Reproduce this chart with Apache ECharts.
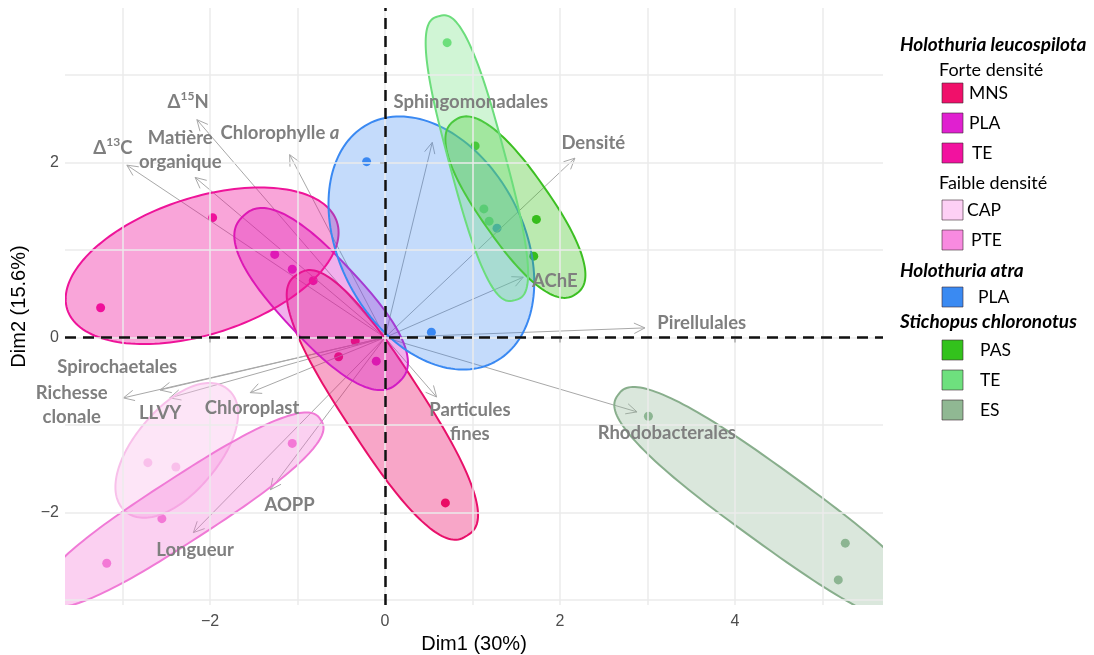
<!DOCTYPE html>
<html><head><meta charset="utf-8">
<script src="https://cdn.jsdelivr.net/npm/echarts@6/dist/echarts.min.js"></script>
<style>html,body{margin:0;padding:0;background:#fff}#c{width:1094px;height:655px}</style>
</head><body><div id="c"></div>
<script>
// ---------- DATA (PCA individuals, Dim1 / Dim2) ----------
const groupLabels = ['MNS','PLA','TE','CAP','PTE','PLA','PAS','TE','ES'];
const mnsDim1 = [-0.34, -0.53, 0.69],  mnsDim2 = [-0.04, -0.22, -1.89];
const plaDim1 = [-1.26, -1.06, -0.10], plaDim2 = [0.95, 0.78, -0.27];
const teDim1  = [-1.97, -3.25, -0.82], teDim2  = [1.37, 0.34, 0.65];
const capDim1 = [-2.71, -2.39],        capDim2 = [-1.43, -1.48];
const pteDim1 = [-1.06, -2.55, -3.18], pteDim2 = [-1.21, -2.07, -2.58];
const atraDim1 = [-0.21, 0.53, 1.28],  atraDim2 = [2.01, 0.06, 1.25];
const pasDim1 = [1.03, 1.73, 1.70],    pasDim2 = [2.19, 1.35, 0.93];
const scTeDim1 = [0.71, 1.13, 1.19],   scTeDim2 = [3.37, 1.47, 1.33];
const esDim1 = [3.01, 5.26, 5.18],     esDim2 = [-0.90, -2.35, -2.77];

// Ellipses (centre, semi-axes, orientation in degrees), per group, same order
const ellipseCx    = [-0.03, -0.73, -2.09, -2.38, -2.32, 0.53, 1.49, 1.05, 4.42];
const ellipseCy    = [-0.77, 0.44, 0.82, -1.29, -1.97, 1.08, 1.49, 2.05, -1.93];
const ellipseMajor = [1.78, 1.30, 1.62, 0.91, 1.89, 1.54, 1.21, 1.68, 2.17];
const ellipseMinor = [0.45, 0.47, 0.78, 0.48, 0.36, 1.05, 0.40, 0.32, 0.42];
const ellipseAngle = [-57, -47, 18, 50, 33, -62, -55, -75, -36];

// Variables (arrows)
const varNames = ['Δ13C','Δ15N','Matière organique','Chlorophylle a','Sphingomonadales','Densité','AChE','Pirellulales','Rhodobacterales','Particules fines','Spirochaetales','Richesse clonale','LLVY','Chloroplast','AOPP','Longueur'];
const varDim1 = [-2.95,-2.15,-2.17,-1.09,0.54,2.17,1.58,2.97,2.88,0.59,-2.57,-2.99,-2.46,-1.54,-1.31,-2.19];
const varDim2 = [1.97,2.49,1.83,2.09,2.23,2.05,0.69,0.11,-0.85,-0.68,-0.60,-0.69,-0.69,-0.63,-1.74,-2.23];
const varLabelDim1 = [-3.11,-2.25,-2.34,-1.20,0.98,2.38,1.94,3.62,3.22,0.97,-3.06,-3.58,-2.57,-1.52,-1.09,-2.17];
const varLabelDim2 = [2.17,2.69,2.14,2.34,2.69,2.22,0.65,0.17,-1.09,-0.97,-0.34,-0.77,-0.86,-0.81,-1.91,-2.43];

// Axes
const xTicks = [-2, 0, 2, 4];
const yTicks = [-2, 0, 2];
const gridXValues = [-3,-2,-1,0,1,2,3,4,5];
const gridYValues = [-3,-2,-1,0,1,2,3];
const xTitle = 'Dim1 (30%)', yTitle = 'Dim2 (15.6%)';

// Legend text
const legendHeads = ['Holothuria leucospilota','Holothuria atra','Stichopus chloronotus'];
const legendSubs = ['Forte densité','Faible densité'];

// ---------- STYLE ----------
const groupDims = [[mnsDim1,mnsDim2],[plaDim1,plaDim2],[teDim1,teDim2],[capDim1,capDim2],[pteDim1,pteDim2],[atraDim1,atraDim2],[pasDim1,pasDim2],[scTeDim1,scTeDim2],[esDim1,esDim2]];
const ellipseRoundness = [2.6, 2.5, 2, 2.1, 2.6, 2, 2.4, 2.8, 2.6];
const pointColor  = ['#e8065f','#d61ec6','#f0109c','#f9c2ec','#f37ad6','#3a89f2','#33bb1c','#6ddf7d','#8db592'];
const strokeColor = ['#e8106a','#d21cc4','#ee1499','#f8c0ea','#f07ad6','#3a89f2','#3cbf22','#6cdd7c','#88ae8c'];
const fillColor   = ['rgba(236,20,110,0.38)','rgba(214,30,200,0.35)','rgba(240,19,156,0.38)','rgba(250,190,236,0.40)','rgba(244,120,214,0.35)','rgba(58,137,242,0.30)','rgba(60,194,30,0.35)','rgba(110,224,125,0.32)','rgba(140,180,145,0.32)'];
const swatchColor = ['#f0106a','#e020d0','#f2129f','#fdd0f5','#f88ae0','#3a8af2','#33c21c','#6ee07e','#90b893'];
const labelGray = '#7f7f7f';
const FONT = 'Lato';

const chart = echarts.init(document.getElementById('c'));

function ellipseRender(gi) {
  return function (params, api) {
    const cx = api.value(0), cy = api.value(1), a = api.value(2), b = api.value(3);
    const t = api.value(4) * Math.PI / 180;
    const e = 2 / ellipseRoundness[gi];
    const pts = [];
    for (let i = 0; i <= 160; i++) {
      const u = 2 * Math.PI * i / 160;
      const cu = Math.cos(u), su = Math.sin(u);
      const ex = a * Math.sign(cu) * Math.pow(Math.abs(cu), e);
      const ey = b * Math.sign(su) * Math.pow(Math.abs(su), e);
      pts.push(api.coord([cx + ex * Math.cos(t) - ey * Math.sin(t), cy + ex * Math.sin(t) + ey * Math.cos(t)]));
    }
    const cs = params.coordSys;
    return {
      type: 'group',
      clipPath: { type: 'rect', shape: { x: cs.x, y: cs.y, width: cs.width, height: cs.height } },
      children: [{ type: 'polygon', shape: { points: pts, smooth: 0 }, style: { fill: fillColor[gi], stroke: strokeColor[gi], lineWidth: 2 } }]
    };
  };
}

const series = [];
series.push({
  type: 'line', data: [], z: 0, silent: true,
  markLine: {
    silent: true, symbol: ['none', 'none'], label: { show: false }, animation: false,
    lineStyle: { color: '#ebebeb', width: 1.5, type: 'solid' },
    data: gridXValues.map(v => ({ xAxis: v })).concat(gridYValues.map(v => ({ yAxis: v })))
  }
});
series.push({
  type: 'line', data: [], z: 1, silent: true,
  markLine: {
    silent: true, symbol: ['none', 'none'], label: { show: false }, animation: false,
    lineStyle: { color: '#111', width: 2.5, type: [11, 7] },
    data: [{ xAxis: 0 }, { yAxis: 0 }]
  }
});
groupDims.forEach((d, gi) => {
  series.push({
    type: 'scatter', z: 2, symbolSize: 9, silent: true,
    itemStyle: { color: pointColor[gi], opacity: 1 },
    data: d[0].map((x, k) => [x, d[1][k]])
  });
});
series.push({
  type: 'custom', z: 3, silent: true,
  data: varDim1.map((x, i) => [x, varDim2[i]]),
  encode: { x: 0, y: 1 },
  renderItem: function (params, api) {
    const o = api.coord([0, 0]);
    const t = api.coord([api.value(0), api.value(1)]);
    const ang = Math.atan2(t[1] - o[1], t[0] - o[0]);
    const L = 12, w = 0.45;
    const p1 = [t[0] - L * Math.cos(ang - w), t[1] - L * Math.sin(ang - w)];
    const p2 = [t[0] - L * Math.cos(ang + w), t[1] - L * Math.sin(ang + w)];
    return {
      type: 'group', children: [
        { type: 'line', shape: { x1: o[0], y1: o[1], x2: t[0], y2: t[1] }, style: { stroke: '#a8a8a8', lineWidth: 1 } },
        { type: 'polyline', shape: { points: [p1, t, p2] }, style: { stroke: '#a8a8a8', lineWidth: 1, fill: null } }
      ]
    };
  }
});
for (let gi = 0; gi < groupLabels.length; gi++) {
  series.push({
    type: 'custom', z: 4, silent: true,
    data: [[ellipseCx[gi], ellipseCy[gi], ellipseMajor[gi], ellipseMinor[gi], ellipseAngle[gi]]],
    encode: { x: 0, y: 1 },
    renderItem: ellipseRender(gi)
  });
}
const twoLine = { 'Matière organique': 1, 'Particules fines': 1, 'Richesse clonale': 1 };
function markup(name) {
  const m = name.match(/^Δ(\d+)(\w)$/);
  if (m) return '{t|Δ}{s|' + m[1] + '}{t|' + m[2] + '}';
  if (name === 'Chlorophylle a') return '{t|Chlorophylle }{i|a}';
  if (twoLine[name]) return name.split(' ').map(w => '{t|' + w + '}').join('\n');
  return '{t|' + name + '}';
}
const LS = 18.5;
const rich = {
  t: { fontFamily: FONT, fontWeight: 'bold', fontSize: LS, fill: labelGray, color: labelGray, lineHeight: 24 },
  i: { fontFamily: FONT, fontWeight: 'bold', fontStyle: 'italic', fontSize: LS, fill: labelGray, color: labelGray, lineHeight: 24 },
  s: { fontFamily: FONT, fontWeight: 'bold', fontSize: 12, fill: labelGray, color: labelGray, lineHeight: 24, verticalAlign: 'top' }
};
series.push({
  type: 'custom', z: 6, silent: true,
  data: varLabelDim1.map((x, i) => [x, varLabelDim2[i]]),
  encode: { x: 0, y: 1 },
  renderItem: function (params, api) {
    const p = api.coord([api.value(0), api.value(1)]);
    return {
      type: 'text', x: p[0], y: p[1],
      style: { text: markup(varNames[params.dataIndex]), rich: rich, align: 'center', verticalAlign: 'middle', fill: labelGray, font: 'bold ' + LS + 'px ' + FONT }
    };
  }
});

// ---------- legend (graphic) ----------
const legendRows = [
  { k: 'h', t: legendHeads[0], y: 45 },
  { k: 's', t: legendSubs[0], y: 70 },
  { k: 'i', g: 0, y: 93, lx: 969 },
  { k: 'i', g: 1, y: 123, lx: 969 },
  { k: 'i', g: 2, y: 153, lx: 972 },
  { k: 's', t: legendSubs[1], y: 183 },
  { k: 'i', g: 3, y: 210, lx: 967 },
  { k: 'i', g: 4, y: 240, lx: 971 },
  { k: 'h', t: legendHeads[1], y: 271 },
  { k: 'i', g: 5, y: 297, lx: 978 },
  { k: 'h', t: legendHeads[2], y: 322 },
  { k: 'i', g: 6, y: 350, lx: 980 },
  { k: 'i', g: 7, y: 380, lx: 980 },
  { k: 'i', g: 8, y: 410, lx: 980 }
];
const graphic = [];
legendRows.forEach(r => {
  if (r.k === 'h') {
    graphic.push({ type: 'text', x: 900, y: r.y, style: { text: r.t, font: 'italic bold 19px ' + FONT, fill: '#000', verticalAlign: 'middle' } });
  } else if (r.k === 's') {
    graphic.push({ type: 'text', x: 939, y: r.y, style: { text: r.t, font: '18px ' + FONT, fill: '#000', verticalAlign: 'middle' } });
  } else {
    graphic.push({ type: 'rect', shape: { x: 942, y: r.y - 10, width: 21, height: 20 }, style: { fill: swatchColor[r.g], stroke: 'rgba(60,40,50,0.6)', lineWidth: 1 } });
    graphic.push({ type: 'text', x: r.lx, y: r.y, style: { text: groupLabels[r.g], font: '17.5px ' + FONT, fill: '#000', verticalAlign: 'middle' } });
  }
});

const fmt = v => (v < 0 ? '\u2212' + Math.abs(v) : String(v));
chart.setOption({
  animation: false,
  backgroundColor: '#fff',
  grid: { left: 65, right: 211, top: 8, bottom: 50, containLabel: false, outerBoundsMode: 'none' },
  xAxis: {
    type: 'value', min: -3.657, max: 5.691,
    splitLine: { show: false }, axisLine: { show: false },
    axisTick: { show: true, customValues: xTicks, length: 5, lineStyle: { color: '#333', width: 2 } },
    axisLabel: { customValues: xTicks, formatter: fmt, color: '#4d4d4d', fontSize: 16, margin: 9, fontFamily: 'Liberation Sans' },
    name: xTitle, nameLocation: 'middle', nameGap: 29,
    nameTextStyle: { fontSize: 20, color: '#000', fontFamily: 'Liberation Sans' }
  },
  yAxis: {
    type: 'value', min: -3.057, max: 3.766,
    splitLine: { show: false }, axisLine: { show: false },
    axisTick: { show: true, customValues: yTicks, length: 5, lineStyle: { color: '#333', width: 2 } },
    axisLabel: { customValues: yTicks, formatter: fmt, color: '#4d4d4d', fontSize: 16, margin: 6, fontFamily: 'Liberation Sans' },
    name: yTitle, nameLocation: 'middle', nameGap: 34,
    nameTextStyle: { fontSize: 20, color: '#000', fontFamily: 'Liberation Sans' }
  },
  graphic: graphic,
  series: series
});
</script></body></html>
